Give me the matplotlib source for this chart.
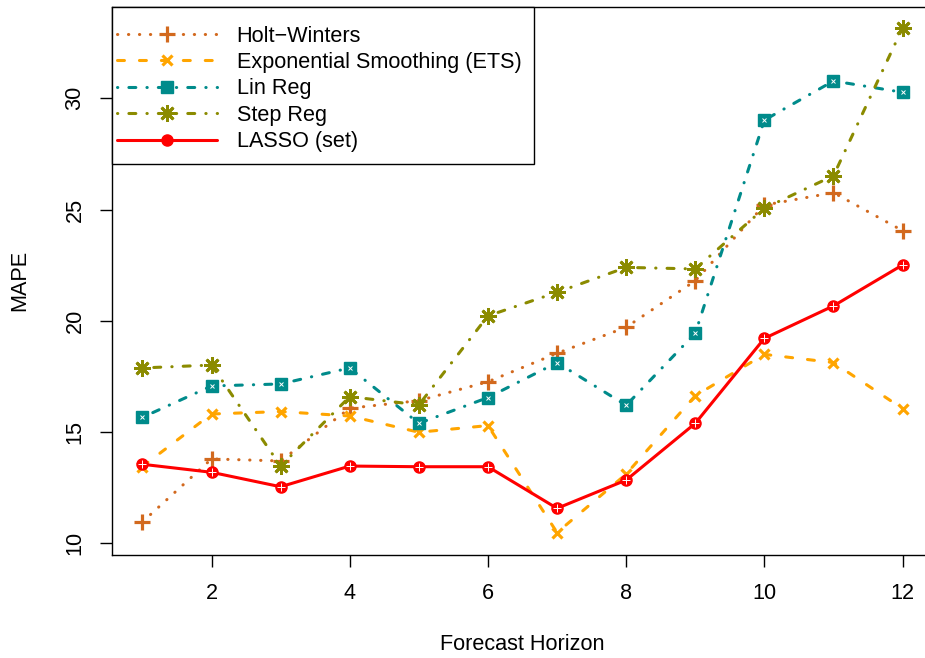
import matplotlib
matplotlib.use("Agg")
import matplotlib.pyplot as plt
from matplotlib.patches import Rectangle

plt.rcParams['font.family'] = ['Liberation Sans', 'DejaVu Sans']
plt.rcParams['lines.scale_dashes'] = False

horizon = [1, 2, 3, 4, 5, 6, 7, 8, 9, 10, 11, 12]
holt_winters = [10.96, 13.79, 13.70, 16.07, 16.41, 17.26, 18.54, 19.71, 21.80, 25.20, 25.76, 24.05]
ets = [13.45, 15.81, 15.92, 15.72, 14.99, 15.29, 10.48, 13.11, 16.63, 18.49, 18.12, 16.05]
lin_reg = [15.66, 17.07, 17.16, 17.88, 15.39, 16.55, 18.12, 16.20, 19.44, 29.02, 30.78, 30.27]
step_reg = [17.88, 18.01, 13.47, 16.59, 16.22, 20.22, 21.28, 22.40, 22.33, 25.06, 26.52, 33.17]
lasso = [13.55, 13.19, 12.54, 13.47, 13.44, 13.44, 11.57, 12.84, 15.39, 19.21, 20.67, 22.51]

labels = ["Holt\u2212Winters", "Exponential Smoothing (ETS)", "Lin Reg", "Step Reg", "LASSO (set)"]
colors = ["#D2691E", "#FFA500", "#008B8B", "#8B8B00", "#FF0000"]
xticks = [2, 4, 6, 8, 10, 12]
yticks = [10, 15, 20, 25, 30]

W, H = 925, 658
FS = 15.6
fig = plt.figure(figsize=(W / 100, H / 100), dpi=100)
L, R, T, B = 112, 933, 7.1, 554.6
ax = fig.add_axes([L / W, 1 - B / H, (R - L) / W, (B - T) / H])

lw = 2.2
dotted = (0, (0.2, 7.7))
dashed = (0, (5.0, 10.8))
dotdash = (0, (0.2, 8.0, 5.0, 8.0))

series = [holt_winters, ets, lin_reg, step_reg, lasso]
styles = [
    dict(ls=dotted, marker='+', ms=11, mew=2.3),
    dict(ls=dashed, marker='x', ms=7.5, mew=2.3),
    dict(ls=dotdash, marker='s', ms=8, mew=1.0),
    dict(ls=dotdash, marker=(8, 2, 0), ms=12, mew=2.0),
    dict(ls='-', marker='o', ms=8, mew=1.0),
]
handles = []
for vals, lab, c, st in zip(series, labels, colors, styles):
    line, = ax.plot(horizon, vals, color=c, lw=lw, linestyle=st['ls'],
                    marker=st['marker'], ms=st['ms'], mew=st['mew'],
                    mfc=c, mec=c, dash_capstyle='round', solid_capstyle='round',
                    label=lab)
    handles.append(line)

# inner white details for the square and circle markers
ax.plot(horizon, lin_reg, ls='none', marker='x', ms=3.5, mew=0.7, color='white')
ax.plot(horizon, lasso, ls='none', marker='+', ms=5.5, mew=0.7, color='white')

ax.set_xlim(0.56, 12.44)
ax.set_ylim(9.49, 34.1)
ax.set_xticks(xticks)
ax.set_yticks(yticks)
ax.tick_params(axis='both', labelsize=FS, length=8.6, width=1.0, direction='out')
ax.tick_params(axis='x', pad=12)
ax.tick_params(axis='y', pad=10.5)
for lbl in ax.get_yticklabels():
    lbl.set_rotation(90)
    lbl.set_va('center')
for sp in ax.spines.values():
    sp.set_linewidth(1.0)

fig.text((L + R) / 2 / W, 1 - 645 / H, "Forecast Horizon", ha='center', va='center', fontsize=FS)
fig.text(20 / W, 1 - (T + B) / 2 / H, "MAPE", ha='center', va='center', rotation=90, fontsize=FS)

# legend box
box = Rectangle((L / W, 1 - 164 / H), (534 - L) / W, (164 - T) / H, transform=fig.transFigure,
                fill=True, facecolor='white', edgecolor='black', lw=1.0, zorder=5)
fig.add_artist(box)
leg = fig.legend(handles=handles, loc='upper left', bbox_to_anchor=(117 / W, 1 - 25.5 / H),
                 bbox_transform=fig.transFigure, borderaxespad=0, borderpad=0, frameon=False,
                 fontsize=FS, handlelength=4.62, handletextpad=0.9,
                 labelspacing=0.25, numpoints=1)
leg.set_zorder(6)

fig.savefig("out.png", dpi=100)
